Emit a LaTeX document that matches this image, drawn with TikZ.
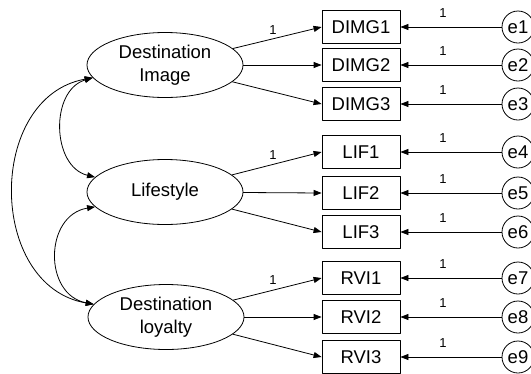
\documentclass[tikz,border=0pt]{standalone}
\usepackage{fontspec}
\setmainfont{Liberation Sans}
\usetikzlibrary{arrows.meta,shapes.geometric}
\begin{document}
\begin{tikzpicture}[x=1pt, y=-1pt, line cap=round, line join=round,
  latent/.style={ellipse, draw, line width=0.8pt, minimum width=156pt, minimum height=65pt,
    inner sep=0pt, align=center, font=\fontsize{18.5}{23}\selectfont},
  observed/.style={rectangle, draw, line width=0.8pt, minimum width=78pt, minimum height=33pt,
    inner sep=0pt, font=\fontsize{18.5}{23}\selectfont},
  errvar/.style={circle, draw, line width=0.8pt, minimum size=32pt, inner sep=0pt,
    font=\fontsize{18.5}{23}\selectfont},
  weight/.style={inner sep=0pt, font=\fontsize{13}{15}\selectfont},
  reg/.style={-{Triangle[length=8pt,width=6pt]}, line width=0.8pt},
  cov/.style={{Triangle[length=8pt,width=6pt]}-{Triangle[length=8pt,width=6pt]}, line width=0.8pt}]
\useasboundingbox (0,0) rectangle (531,373);

% latent factors
\node [latent] (di) at (165,65) {Destination\\Image};
\node [latent] (ls) at (165,192) {Lifestyle};
\node [latent] (dl) at (166,317) {Destination\\loyalty};

% indicators and their errors
\foreach \name/\lab/\y/\e in {d1/DIMG1/27/1, d2/DIMG2/65/2, d3/DIMG3/104/3,
    l1/LIF1/152/4, l2/LIF2/193/5, l3/LIF3/232/6,
    r1/RVI1/278/7, r2/RVI2/317/8, r3/RVI3/357/9}
{
  \node [observed] (\name) at (361,\y) {\lab};
  \node [errvar] (e\e) at (518,\y) {e\e};
  \draw [reg] (e\e) -- (\name);
  \node [weight] at (443,\y-14) {1};
}

% loadings
\foreach \f/\i in {di/d1, di/d2, di/d3, ls/l1, ls/l2, ls/l3, dl/r1, dl/r2, dl/r3}
  \draw [reg] (\f) -- (\i.west);
\node [weight] at (273,30) {1};
\node [weight] at (273,155) {1};
\node [weight] at (273,280) {1};

% covariances
\draw [cov] (di.190) to [bend right=75, looseness=1.15] (ls.168);
\draw [cov] (ls.192) to [bend right=80, looseness=1.35] (dl.170);
\draw [cov] (di.190) to [bend right=80, looseness=1.22] (dl.170);
\end{tikzpicture}
\end{document}
